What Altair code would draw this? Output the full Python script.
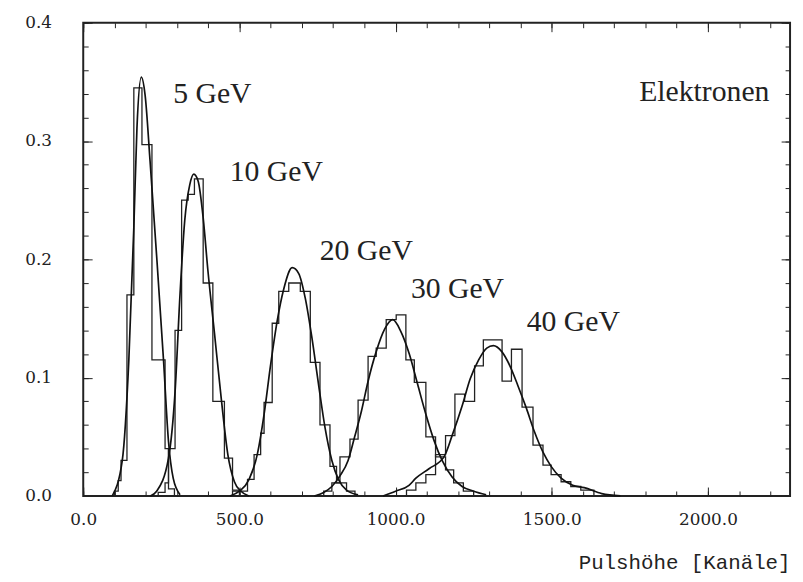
import altair as alt
import pandas as pd

# ---------------- data ----------------
energies = ["5 GeV", "10 GeV", "20 GeV", "30 GeV", "40 GeV"]

# histogram bin edges (Kanäle) and bin heights
hist_edges_5 = [100, 112, 121, 140, 162, 188, 220, 262, 273, 292]
hist_vals_5 = [0.004, 0.013, 0.03, 0.17, 0.345, 0.297, 0.115, 0.04, 0.006]

hist_edges_10 = [240, 262, 273, 294, 315, 336, 356, 384, 415, 452, 478, 500]
hist_vals_10 = [0.003, 0.011, 0.04, 0.14, 0.25, 0.255, 0.268, 0.18, 0.08, 0.032, 0.005]

hist_edges_20 = [478, 526, 547, 568, 579, 605, 626, 658, 695, 727, 758, 790, 811, 843, 870]
hist_vals_20 = [0.004, 0.014, 0.035, 0.053, 0.079, 0.146, 0.173, 0.180, 0.173, 0.113, 0.06, 0.025, 0.011, 0.004]

hist_edges_30 = [770, 796, 822, 854, 880, 912, 938, 970, 1002, 1033, 1060, 1097, 1128, 1160, 1186, 1217, 1250]
hist_vals_30 = [0.004, 0.011, 0.033, 0.048, 0.081, 0.118, 0.125, 0.149, 0.153, 0.115, 0.096, 0.05, 0.033, 0.022, 0.011, 0.004]

hist_edges_40 = [1035, 1065, 1097, 1128, 1160, 1190, 1221, 1253, 1281, 1341, 1371, 1405, 1440, 1472, 1498, 1530, 1561, 1593, 1635]
hist_vals_40 = [0.005, 0.011, 0.018, 0.035, 0.051, 0.086, 0.08, 0.11, 0.132, 0.097, 0.124, 0.075, 0.043, 0.026, 0.018, 0.012, 0.008, 0.005]

# fitted curves, points
fit_x_5 = [93, 125, 146, 162, 172, 186, 198, 214, 236, 257, 273, 288, 310]
fit_y_5 = [0.0, 0.030, 0.115, 0.227, 0.311, 0.354, 0.339, 0.283, 0.199, 0.115, 0.046, 0.015, 0.001]

fit_x_10 = [215, 235, 273, 294, 310, 325, 341, 354, 368, 384, 399, 420, 442, 463, 484, 505, 530]
fit_y_10 = [0.0, 0.004, 0.032, 0.088, 0.171, 0.233, 0.263, 0.272, 0.266, 0.235, 0.191, 0.138, 0.082, 0.035, 0.012, 0.004, 0.0]

fit_x_20 = [470, 500, 531, 558, 579, 600, 621, 642, 669, 690, 711, 732, 753, 774, 796, 817, 843, 880]
fit_y_20 = [0.0, 0.004, 0.014, 0.036, 0.069, 0.111, 0.148, 0.175, 0.193, 0.188, 0.167, 0.134, 0.095, 0.058, 0.030, 0.014, 0.005, 0.001]

fit_x_30 = [740, 770, 796, 822, 848, 869, 891, 912, 938, 965, 991, 1017, 1044, 1070, 1097, 1123, 1149, 1181, 1213, 1250, 1290]
fit_y_30 = [0.0, 0.003, 0.008, 0.017, 0.030, 0.050, 0.072, 0.097, 0.122, 0.141, 0.149, 0.139, 0.120, 0.095, 0.069, 0.047, 0.030, 0.016, 0.008, 0.004, 0.001]

fit_x_40 = [960, 1000, 1043, 1065, 1107, 1155, 1181, 1213, 1239, 1266, 1292, 1313, 1340, 1366, 1392, 1419, 1445, 1472, 1498, 1530, 1567, 1604, 1660, 1720]
fit_y_40 = [0.0, 0.004, 0.009, 0.015, 0.023, 0.033, 0.051, 0.076, 0.099, 0.115, 0.125, 0.127, 0.122, 0.110, 0.093, 0.074, 0.054, 0.037, 0.025, 0.015, 0.009, 0.007, 0.002, 0.0]

# annotation anchors (data units)
label_x = [288, 469, 757, 1049, 1420]
label_y = [0.340, 0.274, 0.207, 0.175, 0.147]
particle_label = "Elektronen"
particle_x = [2197]
particle_y = [0.341]

# axis tick values
x_major_ticks = [0, 500, 1000, 1500, 2000]
x_minor_ticks = [0, 100, 200, 300, 400, 500, 600, 700, 800, 900, 1000, 1100,
                 1200, 1300, 1400, 1500, 1600, 1700, 1800, 1900, 2000, 2100, 2200]
y_major_ticks = [0.0, 0.1, 0.2, 0.3, 0.4]
y_minor_ticks = [0.0, 0.02, 0.04, 0.06, 0.08, 0.1, 0.12, 0.14, 0.16, 0.18, 0.2,
                 0.22, 0.24, 0.26, 0.28, 0.3, 0.32, 0.34, 0.36, 0.38, 0.4]
x_domain = [0, 2263]
y_domain = [0, 0.4]

# ---------------- tables ----------------
hist_edges = [hist_edges_5, hist_edges_10, hist_edges_20, hist_edges_30, hist_edges_40]
hist_vals = [hist_vals_5, hist_vals_10, hist_vals_20, hist_vals_30, hist_vals_40]
fit_xs = [fit_x_5, fit_x_10, fit_x_20, fit_x_30, fit_x_40]
fit_ys = [fit_y_5, fit_y_10, fit_y_20, fit_y_30, fit_y_40]

hist_rows = []
for e, ed, hv in zip(energies, hist_edges, hist_vals):
    pts = [(ed[0], 0.0)] + list(zip(ed[:-1], hv)) + [(ed[-1], 0.0)]
    for i, (x, y) in enumerate(pts):
        hist_rows.append({"energy": e, "x": x, "y": y, "i": i})
hist_df = pd.DataFrame(hist_rows)

fit_rows = []
for e, fx, fy in zip(energies, fit_xs, fit_ys):
    for i, (x, y) in enumerate(zip(fx, fy)):
        fit_rows.append({"energy": e, "x": x, "y": y, "i": i})
fit_df = pd.DataFrame(fit_rows)

label_df = pd.DataFrame({"x": label_x, "y": label_y, "text": energies})
particle_df = pd.DataFrame({"x": particle_x, "y": particle_y, "text": [particle_label]})

# ---------------- styling ----------------
INK = "#222222"
LABEL_FONT = "DejaVu Serif"
xscale = alt.Scale(domain=x_domain, nice=False, zero=False)
yscale = alt.Scale(domain=y_domain, nice=False)


def tick_axis(orient, values, size, labels=False, **kw):
    return alt.Axis(orient=orient, values=values, tickSize=size, offset=-size,
                    domain=False, grid=False, labels=labels, tickColor=INK,
                    tickWidth=1, **kw)


ax_bottom = tick_axis("bottom", x_major_ticks, 9, labels=True, format=".1f",
                      labelFont=LABEL_FONT, labelFontSize=17, labelColor=INK,
                      labelPadding=16, labelFlush=False,
                      title="Pulshöhe [Kanäle]", titleFont="Liberation Mono",
                      titleFontSize=21, titleFontWeight="normal", titleColor=INK,
                      titleAnchor="end", titleAlign="right", titleBaseline="middle",
                      titleX=714, titleY=76)
ax_left = tick_axis("left", y_major_ticks, 9, labels=True, format=".1f",
                    labelFont=LABEL_FONT, labelFontSize=17, labelColor=INK,
                    labelPadding=32, title=None)

hist = alt.Chart(hist_df).mark_line(interpolate="step-after", color=INK,
                                    strokeWidth=1.3).encode(
    x=alt.X("x:Q", scale=xscale, axis=ax_bottom),
    y=alt.Y("y:Q", scale=yscale, axis=ax_left),
    detail="energy:N",
    order="i:Q",
)

fit = alt.Chart(fit_df).mark_line(interpolate="monotone", color="#111111",
                                  strokeWidth=1.7).encode(
    x=alt.X("x:Q", scale=xscale, axis=tick_axis("bottom", x_minor_ticks, 5, title=None)),
    y=alt.Y("y:Q", scale=yscale, axis=tick_axis("left", y_minor_ticks, 5, title=None)),
    detail="energy:N",
    order="i:Q",
)

labels = alt.Chart(label_df).mark_text(font="Liberation Serif", fontSize=30,
                                       align="left", baseline="middle",
                                       color=INK).encode(
    x=alt.X("x:Q", scale=xscale, axis=tick_axis("top", x_major_ticks, 9, title=None)),
    y=alt.Y("y:Q", scale=yscale, axis=tick_axis("right", y_major_ticks, 9, title=None)),
    text="text:N",
)

particle = alt.Chart(particle_df).mark_text(font="Liberation Serif", fontSize=30,
                                            align="right", baseline="middle",
                                            color=INK).encode(
    x=alt.X("x:Q", scale=xscale, axis=tick_axis("top", x_minor_ticks, 5, title=None)),
    y=alt.Y("y:Q", scale=yscale, axis=tick_axis("right", y_minor_ticks, 5, title=None)),
    text="text:N",
)

chart = alt.layer(hist, fit, labels, particle).resolve_axis(
    x="independent", y="independent"
).properties(
    width=714,
    height=478,
    autosize=alt.AutoSizeParams(type="none"),
    padding={"left": 76, "top": 12, "right": 5, "bottom": 82},
    background="white",
).configure_view(stroke=INK, strokeWidth=2)

chart.save("out.html", embed_options={"renderer": "svg", "actions": False})
